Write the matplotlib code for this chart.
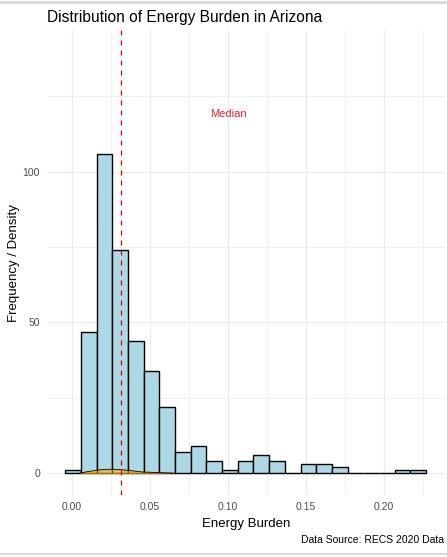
import numpy as np
import matplotlib
matplotlib.use("Agg")
import matplotlib.pyplot as plt
from matplotlib.lines import Line2D

plt.rcParams['font.family'] = ['Liberation Sans', 'DejaVu Sans']

# histogram of energy burden (counts per bin)
bin_start = -0.0043
bin_width = 0.01005
counts = [1, 47, 106, 74, 44, 34, 22, 7, 9, 4, 1, 4, 6, 4, 0, 3, 3, 2, 0, 0, 0, 1, 1]

# small density overlay near the baseline
dens_x = [0.005, 0.010, 0.015, 0.020, 0.025, 0.030, 0.035, 0.040, 0.045, 0.050, 0.055, 0.060, 0.065]
dens_y = [0.0, 0.5, 0.9, 1.2, 1.3, 1.2, 1.0, 0.7, 0.4, 0.3, 0.2, 0.1, 0.0]

median_val = 0.0314
x_ticks = [0.00, 0.05, 0.10, 0.15, 0.20]
y_ticks = [0, 50, 100]

fig = plt.figure(figsize=(4.47, 5.57), dpi=100)
ax = fig.add_axes([0.105, 0.111, 0.8905, 0.835])

edges = bin_start + bin_width * np.arange(len(counts) + 1)
ax.hist(edges[:-1], bins=edges, weights=counts, color='#ADD8E6',
        edgecolor='black', linewidth=1.0, zorder=2)
ax.fill_between(dens_x, dens_y, color='orange', alpha=0.5, zorder=3)
ax.plot(dens_x, dens_y, color='black', linewidth=0.6, zorder=3)

ax.axvline(median_val, color='#E00000', linestyle=(0, (4, 4)), linewidth=0.9, zorder=4)
ax.text(0.10, 119, 'Median', color='#E8202A', fontsize=8, ha='center', va='center')

ax.set_xticks(x_ticks)
ax.set_xticklabels([f'{t:.2f}' for t in x_ticks])
ax.set_yticks(y_ticks)
ax.set_xticks(np.arange(-0.025, 0.25, 0.025), minor=True)
ax.set_yticks([25, 75, 125], minor=True)
ax.set_xlim(-0.016, 0.239)
ax.set_ylim(-7.3, 147)

ax.grid(True, which='major', color='#EBEBEB', linewidth=0.9, zorder=0)
ax.grid(True, which='minor', color='#EBEBEB', linewidth=0.5, zorder=0)
ax.set_axisbelow(True)
for s in ax.spines.values():
    s.set_visible(False)
ax.tick_params(which='both', length=0, labelsize=7.5, labelcolor='#4D4D4D', pad=5)

ax.set_xlabel('Energy Burden', fontsize=9.5, labelpad=4)
ax.set_ylabel('Frequency / Density', fontsize=9.5, labelpad=2)
ax.set_title('Distribution of Energy Burden in Arizona', fontsize=11.2, loc='left', pad=6)
fig.text(0.993, 0.03, 'Data Source: RECS 2020 Data', fontsize=7.5, ha='right', va='center')

# light frame lines at top and bottom
fig.add_artist(Line2D([0, 1], [0.997, 0.997], color='#D9D9D9', linewidth=2))
fig.add_artist(Line2D([0, 1], [0.006, 0.006], color='#D9D9D9', linewidth=1.5))

fig.savefig('out.png', dpi=100)
